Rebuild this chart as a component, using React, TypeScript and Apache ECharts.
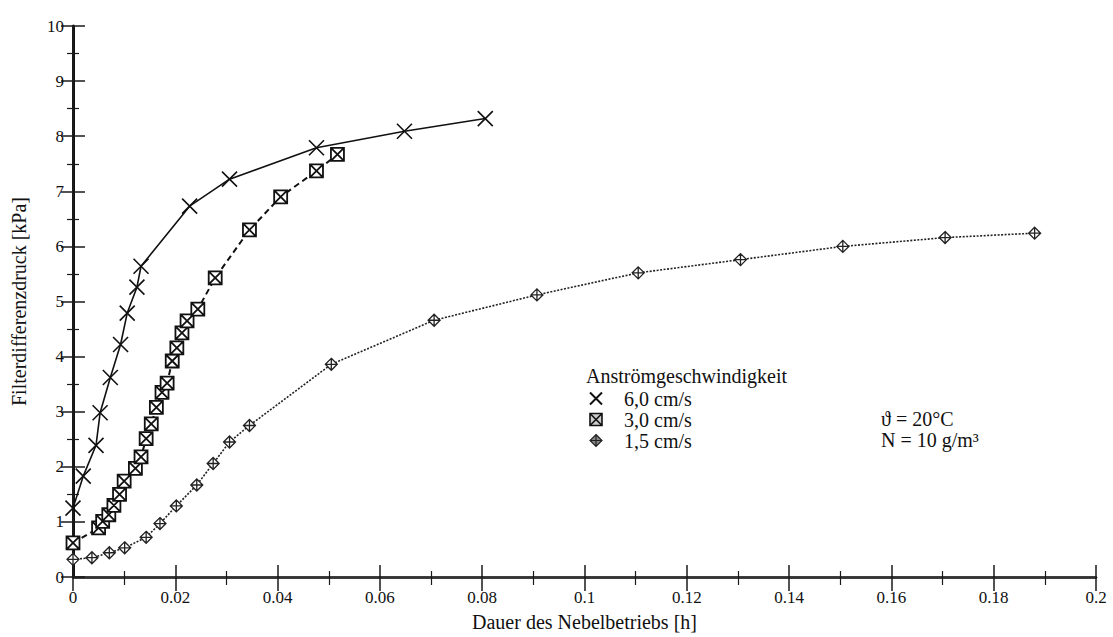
import React, { useEffect, useRef } from "react";
import * as echarts from "echarts";

const SERIF = '"Liberation Serif", "DejaVu Serif", serif';

// Anströmgeschwindigkeit 6,0 cm/s
const xCross = [0, 0.002, 0.0045, 0.0053, 0.0073, 0.0093, 0.0106, 0.0125, 0.0133, 0.0228, 0.0306, 0.0476, 0.0648, 0.0806];
const yCross = [1.25, 1.83, 2.39, 2.98, 3.62, 4.22, 4.79, 5.26, 5.64, 6.73, 7.22, 7.79, 8.09, 8.32];

// 3,0 cm/s
const xSquare = [0, 0.005, 0.0058, 0.007, 0.008, 0.0091, 0.01, 0.0122, 0.0133, 0.0143, 0.0153, 0.0163, 0.0174, 0.0184, 0.0194, 0.0203, 0.0213, 0.0223, 0.0244, 0.0278, 0.0345, 0.0406, 0.0476, 0.0517];
const ySquare = [0.62, 0.89, 1.01, 1.13, 1.3, 1.5, 1.74, 1.97, 2.18, 2.51, 2.78, 3.08, 3.35, 3.52, 3.92, 4.16, 4.43, 4.65, 4.86, 5.43, 6.3, 6.9, 7.37, 7.67];

// 1,5 cm/s
const xDiamond = [0, 0.0037, 0.0071, 0.0101, 0.0143, 0.017, 0.0202, 0.0242, 0.0274, 0.0306, 0.0345, 0.0505, 0.0706, 0.0907, 0.1105, 0.1305, 0.1505, 0.1705, 0.188];
const yDiamond = [0.32, 0.35, 0.44, 0.53, 0.72, 0.97, 1.29, 1.67, 2.06, 2.45, 2.75, 3.86, 4.66, 5.12, 5.52, 5.76, 6.0, 6.16, 6.24];

const seriesNames = ["6,0 cm/s", "3,0 cm/s", "1,5 cm/s"];
const legendTitle = "Anströmgeschwindigkeit";
const note1 = "ϑ = 20°C";
const note2 = "N = 10 g/m³";
const xTitle = "Dauer des Nebelbetriebs [h]";
const yTitle = "Filterdifferenzdruck [kPa]";

const CROSS = "path://M0,0L10,10M10,0L0,10";
const SQUARE = "path://M0,0L10,0L10,10L0,10ZM0,0L10,10M10,0L0,10";
const DIAMOND = "path://M5,0L10,5L5,10L0,5ZM5,0L5,10M0,5L10,5";

const zip = (xs: number[], ys: number[]) => xs.map((x, i) => [x, ys[i]]);

export default function App() {
  const ref = useRef<HTMLDivElement>(null);
  useEffect(() => {
    if (!ref.current) return;
    const chart = echarts.init(ref.current, null, { renderer: "svg" });
    const axisLine = { lineStyle: { color: "#1a1a1a", width: 2 } };
    const tickStyle = { lineStyle: { color: "#1a1a1a", width: 1.5 } };
    chart.setOption({
      animation: false,
      backgroundColor: "#fff",
      grid: { left: 73, right: 17, top: 26, bottom: 55 },
      xAxis: [
        {
          type: "value",
          min: 0,
          max: 0.2,
          interval: 0.02,
          name: xTitle,
          nameLocation: "middle",
          nameGap: 35,
          nameTextStyle: { fontFamily: SERIF, fontSize: 20, color: "#111" },
          axisLine: { lineStyle: { color: "#333", width: 2.5 } },
          axisTick: { inside: true, length: 12, ...tickStyle },
          minorTick: { show: true, splitNumber: 2, length: 6, lineStyle: { color: "#1a1a1a", width: 1.2 } },
          splitLine: { show: false },
          axisLabel: {
            fontFamily: SERIF,
            fontSize: 17,
            color: "#111",
            margin: 12,
            formatter: (v: number) => String(+v.toFixed(2)),
          },
        },
        {
          type: "value",
          position: "top",
          min: 0,
          max: 0.2,
          interval: 0.02,
          axisLine: { lineStyle: { color: "#333", width: 2.5 } },
          axisTick: { inside: true, length: 14, ...tickStyle },
          minorTick: { show: true, splitNumber: 2, length: 8, lineStyle: { color: "#1a1a1a", width: 1.2 } },
          splitLine: { show: false },
          axisLabel: { show: false },
        },
      ],
      yAxis: [
        {
          type: "value",
          min: 0,
          max: 10,
          interval: 1,
          name: yTitle,
          nameLocation: "middle",
          nameGap: 44,
          nameTextStyle: { fontFamily: SERIF, fontSize: 20, color: "#111" },
          axisLine: { lineStyle: { color: "#111", width: 3 } },
          axisTick: { inside: true, length: 12, ...tickStyle },
          minorTick: { show: true, splitNumber: 2, length: 6, lineStyle: { color: "#1a1a1a", width: 1.2 } },
          splitLine: { show: false },
          axisLabel: { fontFamily: SERIF, fontSize: 17, color: "#111", margin: 9 },
        },
        {
          type: "value",
          position: "right",
          min: 0,
          max: 10,
          interval: 1,
          axisLine,
          axisTick: { inside: true, length: 12, ...tickStyle },
          minorTick: { show: true, splitNumber: 2, length: 6, lineStyle: { color: "#1a1a1a", width: 1.2 } },
          splitLine: { show: false },
          axisLabel: { show: false },
        },
      ],
      legend: {
        orient: "vertical",
        left: 589,
        top: 388,
        padding: 0,
        itemGap: 0,
        itemWidth: 12,
        itemHeight: 12,
        textStyle: { fontFamily: SERIF, fontSize: 20, color: "#111", lineHeight: 21, padding: [0, 0, 0, 17] },
        data: [
          { name: seriesNames[0], icon: CROSS, itemStyle: { color: "transparent", borderColor: "#111", borderWidth: 2 } },
          { name: seriesNames[1], icon: SQUARE, itemStyle: { color: "#ccc", borderColor: "#111", borderWidth: 1.6 } },
          { name: seriesNames[2], icon: DIAMOND, itemStyle: { color: "#888", borderColor: "#222", borderWidth: 1.2 } },
        ],
      },
      graphic: [
        {
          type: "text",
          left: 586,
          top: 366,
          style: { text: legendTitle, font: `20px ${SERIF}`, fill: "#111" },
        },
        {
          type: "text",
          left: 881,
          top: 409,
          style: { text: note1, font: `20px ${SERIF}`, fill: "#111" },
        },
        {
          type: "text",
          left: 881,
          top: 430,
          style: { text: note2, font: `20px ${SERIF}`, fill: "#111" },
        },
      ],
      series: [
        {
          name: seriesNames[2],
          type: "line",
          data: zip(xDiamond, yDiamond),
          symbol: DIAMOND,
          symbolSize: 12,
          showAllSymbol: true,
          lineStyle: { color: "#222", width: 1.6, type: [2, 1.5] },
          itemStyle: { color: "#fff", borderColor: "#222", borderWidth: 1.3 },
          z: 2,
        },
        {
          name: seriesNames[1],
          type: "line",
          data: zip(xSquare, ySquare),
          symbol: SQUARE,
          symbolSize: 13,
          showAllSymbol: true,
          lineStyle: { color: "#111", width: 2, type: [6, 4] },
          itemStyle: { color: "#fff", borderColor: "#111", borderWidth: 1.8 },
          z: 3,
        },
        {
          name: seriesNames[0],
          type: "line",
          data: zip(xCross, yCross),
          symbol: CROSS,
          symbolSize: 15,
          showAllSymbol: true,
          lineStyle: { color: "#111", width: 1.6 },
          itemStyle: { color: "transparent", borderColor: "#111", borderWidth: 1.6 },
          z: 4,
        },
      ],
    });
    return () => chart.dispose();
  }, []);
  return <div ref={ref} style={{ width: 1113, height: 637, position: "absolute", left: 0, top: 0 }} />;
}
